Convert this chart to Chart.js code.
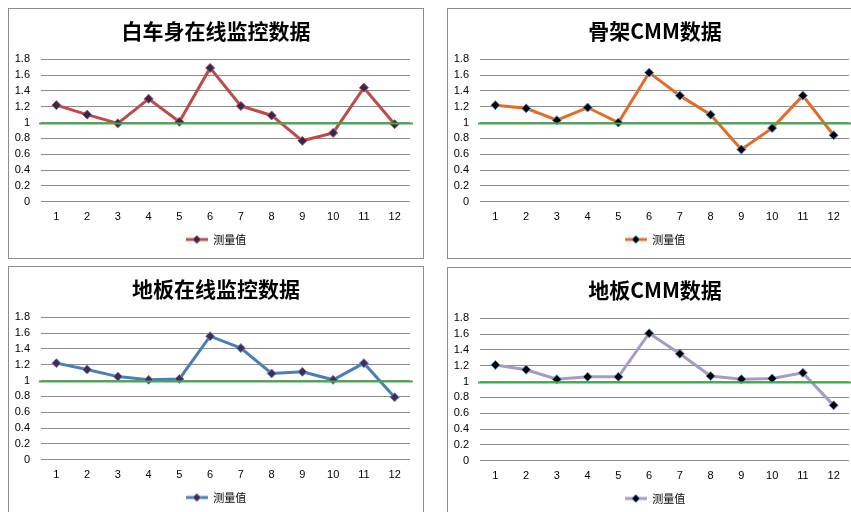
<!DOCTYPE html>
<html>
<head>
<meta charset="utf-8">
<script src="https://cdn.jsdelivr.net/npm/chart.js@4"></script>
<style>
  html, body { margin: 0; padding: 0; background: #fff; overflow: hidden; }
  body { width: 851px; height: 512px; position: relative; }
  .panel { position: absolute; width: 414px; height: 249px; border: 1px solid #8c8c8c; background: #fff; }
  .panel canvas { display: block; }
</style>
</head>
<body>
<div class="panel" style="left:8px;top:8px"><canvas id="c1" width="414" height="249"></canvas></div>
<div class="panel" style="left:447px;top:8px"><canvas id="c2" width="414" height="249"></canvas></div>
<div class="panel" style="left:8px;top:266px"><canvas id="c3" width="414" height="249"></canvas></div>
<div class="panel" style="left:447px;top:267px"><canvas id="c4" width="414" height="249"></canvas></div>
<script>
// sample index 1..12 and the target ratio line
const points = ["1", "2", "3", "4", "5", "6", "7", "8", "9", "10", "11", "12"];
const target = 1.0;
const yTicks = [0, 0.2, 0.4, 0.6, 0.8, 1, 1.2, 1.4, 1.6, 1.8];
const seriesName = "测量值";

// measured values per station
const bodyOnline = [1.22, 1.10, 0.99, 1.30, 1.01, 1.69, 1.21, 1.09, 0.77, 0.87, 1.44, 0.98];
const frameCmm = [1.22, 1.18, 1.03, 1.19, 1.00, 1.63, 1.34, 1.10, 0.66, 0.93, 1.34, 0.84];
const floorOnline = [1.22, 1.14, 1.05, 1.01, 1.02, 1.56, 1.41, 1.09, 1.11, 1.01, 1.22, 0.79];
const floorCmm = [1.21, 1.15, 1.03, 1.06, 1.06, 1.61, 1.35, 1.07, 1.03, 1.04, 1.11, 0.70];

const cjk = '"Noto Sans CJK SC", "Noto Sans", sans-serif';
const latin = '"Liberation Sans", "Noto Sans", sans-serif';

// green reference line at the target value, across the whole plot
const targetLine = {
  id: "targetLine",
  afterDatasetsDraw(chart) {
    const { ctx, chartArea, scales } = chart;
    const y = Math.round(scales.y.getPixelForValue(target)) + 0.5;
    ctx.save();
    ctx.strokeStyle = "#41ad49";
    ctx.lineWidth = 2;
    ctx.beginPath();
    ctx.moveTo(chartArea.left - 2, y);
    ctx.lineTo(chartArea.right + 3, y);
    ctx.stroke();
    ctx.restore();
  },
};

// title and legend centred on the whole canvas, not the padded box
const centerBoxes = {
  id: "centerBoxes",
  afterLayout(chart) {
    [chart.titleBlock, chart.legend].forEach((box) => {
      if (!box) return;
      box.left = 0;
      box.right = chart.width;
      box.width = chart.width;
    });
  },
};

// legend swatch: short line with the diamond marker on it
function legendIcon(lineColor, fill, border) {
  const c = document.createElement("canvas");
  c.width = 22;
  c.height = 10;
  const g = c.getContext("2d");
  g.strokeStyle = lineColor;
  g.lineWidth = 3;
  g.beginPath();
  g.moveTo(0, 5);
  g.lineTo(22, 5);
  g.stroke();
  g.fillStyle = fill;
  g.strokeStyle = border;
  g.lineWidth = 1;
  g.beginPath();
  g.moveTo(11, 1);
  g.lineTo(15, 5);
  g.lineTo(11, 9);
  g.lineTo(7, 5);
  g.closePath();
  g.fill();
  g.stroke();
  return c;
}

function makeChart(id, title, values, lineColor, markerFill, markerBorder) {
  const icon = legendIcon(lineColor, markerFill, markerBorder);
  return new Chart(document.getElementById(id), {
    type: "line",
    data: {
      labels: points,
      datasets: [
        {
          label: seriesName,
          data: values,
          borderColor: lineColor,
          borderWidth: 3,
          pointStyle: "rectRot",
          pointRadius: 4.5,
          pointBackgroundColor: markerFill,
          pointBorderColor: markerBorder,
          pointBorderWidth: 1,
          tension: 0,
        },
      ],
    },
    options: {
      responsive: false,
      animation: false,
      layout: { padding: { left: 0, right: 13, top: 0, bottom: 3 } },
      plugins: {
        title: {
          display: true,
          text: title,
          color: "#000",
          font: { family: cjk, size: 21, weight: "bold" },
          padding: { top: 9, bottom: 16 },
        },
        legend: {
          position: "bottom",
          labels: {
            usePointStyle: true,
            pointStyleWidth: 22,
            boxHeight: 10,
            color: "#595959",
            font: { family: cjk, size: 11 },
            padding: 5,
            generateLabels: () => [
              { text: seriesName, pointStyle: icon, fillStyle: lineColor, strokeStyle: lineColor, lineWidth: 0, datasetIndex: 0 },
            ],
          },
        },
        tooltip: { enabled: false },
      },
      scales: {
        x: {
          type: "category",
          offset: true,
          grid: { display: false, drawTicks: false },
          border: { display: false },
          ticks: { color: "#000", font: { family: latin, size: 11 }, padding: 9 },
          afterFit: (axis) => { axis.height -= 4; },
        },
        y: {
          min: 0,
          max: 1.8,
          afterBuildTicks: (axis) => { axis.ticks = yTicks.map((v) => ({ value: v })); },
          afterFit: (axis) => { axis.width = 32; },
          grid: { color: "#8c8c8c", drawTicks: false, lineWidth: 1 },
          border: { display: false },
          ticks: {
            autoSkip: false,
            color: "#000",
            font: { family: latin, size: 11 },
            padding: 11,
            callback: (v) => String(parseFloat(Number(v).toFixed(1))),
          },
        },
      },
    },
    plugins: [targetLine, centerBoxes],
  });
}

makeChart("c1", "白车身在线监控数据", bodyOnline, "#be4b48", "#2e2a55", "#be4b48");
makeChart("c2", "骨架CMM数据", frameCmm, "#e36c2a", "#000000", "#5b8fd0");
makeChart("c3", "地板在线监控数据", floorOnline, "#4a7ebb", "#4b2a52", "#5b8fd0");
makeChart("c4", "地板CMM数据", floorCmm, "#a79bc4", "#000000", "#5b8fd0");
</script>
</body>
</html>
